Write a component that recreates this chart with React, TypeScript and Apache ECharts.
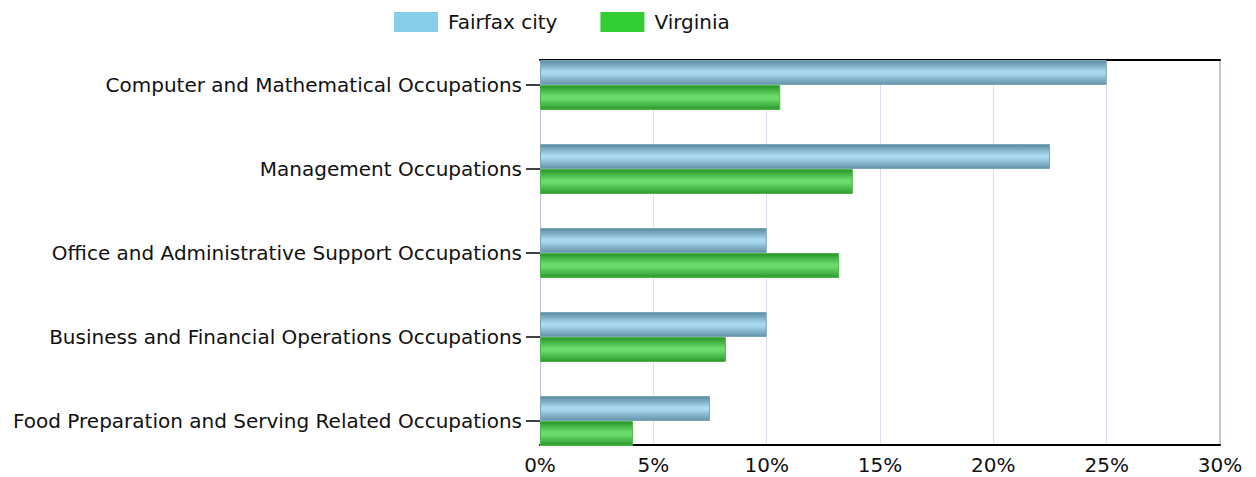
import React, { useEffect, useRef } from "react";
import * as echarts from "echarts";

const categories = [
  "Computer and Mathematical Occupations",
  "Management Occupations",
  "Office and Administrative Support Occupations",
  "Business and Financial Operations Occupations",
  "Food Preparation and Serving Related Occupations",
];
const fairfax = [25.0, 22.5, 10.0, 10.0, 7.5];
const virginia = [10.6, 13.8, 13.2, 8.2, 4.1];
const seriesNames = ["Fairfax city", "Virginia"];
const FONT = "DejaVu Sans";

function grad(edgeTop: string, mid: string, edgeBottom: string) {
  return new echarts.graphic.LinearGradient(0, 0, 0, 1, [
    { offset: 0, color: edgeTop },
    { offset: 0.45, color: mid },
    { offset: 0.55, color: mid },
    { offset: 1, color: edgeBottom },
  ]);
}

export default function App() {
  const ref = useRef<HTMLDivElement>(null);
  useEffect(() => {
    document.body.style.margin = "0";
    if (!ref.current) return;
    const chart = echarts.init(ref.current, null, { renderer: "svg" });
    chart.setOption({
      animation: false,
      textStyle: { fontFamily: FONT },
      legend: {
        left: 394,
        top: 12,
        padding: 0,
        itemWidth: 44,
        itemHeight: 20,
        itemGap: 43,
        icon: "rect",
        textStyle: { fontSize: 20, color: "#111", fontFamily: FONT, padding: [0, 0, 0, 5] },
        data: [
          { name: seriesNames[0], itemStyle: { color: "#87CEEB", borderWidth: 0 } },
          { name: seriesNames[1], itemStyle: { color: "#32CD32", borderWidth: 0 } },
        ],
      },
      grid: [
        { left: 540, right: 36, top: 60, bottom: 32, containLabel: false },
        { left: 540, right: 36, top: 43, bottom: 14, containLabel: false },
      ],
      xAxis: [
        {
          gridIndex: 0,
          type: "value",
          min: 0,
          max: 30,
          interval: 5,
          position: "bottom",
          axisLine: { show: true, onZero: false, lineStyle: { color: "#000", width: 2 } },
          axisTick: { show: false },
          axisLabel: {
            formatter: "{value}%",
            fontSize: 20,
            color: "#111",
            fontFamily: FONT,
            margin: 10,
          },
          splitLine: { show: true, lineStyle: { color: "#dcdcf0", width: 1 } },
        },
        {
          gridIndex: 0,
          type: "value",
          min: 0,
          max: 30,
          position: "top",
          axisLine: { show: true, onZero: false, lineStyle: { color: "#000", width: 2 } },
          axisTick: { show: false },
          axisLabel: { show: false },
          splitLine: { show: false },
        },
        {
          gridIndex: 1,
          type: "value",
          min: 0,
          max: 30,
          show: false,
        },
      ],
      yAxis: [
        {
          gridIndex: 0,
          type: "value",
          min: 0,
          max: 1,
          position: "left",
          axisLine: { show: true, onZero: false, lineStyle: { color: "#c0c0d8", width: 1 } },
          axisTick: { show: false },
          axisLabel: { show: false },
          splitLine: { show: false },
        },
        {
          gridIndex: 0,
          type: "value",
          min: 0,
          max: 1,
          position: "right",
          axisLine: { show: true, onZero: false, lineStyle: { color: "#b8b8cc", width: 1.5 } },
          axisTick: { show: false },
          axisLabel: { show: false },
          splitLine: { show: false },
        },
        {
          gridIndex: 1,
          type: "category",
          data: categories,
          inverse: true,
          axisLine: { show: false },
          axisTick: {
            show: true,
            alignWithLabel: true,
            length: 14,
            lineStyle: { color: "#000", width: 1.5 },
          },
          axisLabel: {
            fontSize: 20,
            color: "#111",
            fontFamily: FONT,
            margin: 18,
          },
        },
      ],
      series: [
        {
          name: seriesNames[0],
          type: "bar",
          xAxisIndex: 2,
          yAxisIndex: 2,
          data: fairfax,
          barWidth: 25,
          barGap: "0%",
          itemStyle: {
            color: grad("#5a8a9e", "#a8d9ef", "#6493a8"),
            borderColor: "#7aa6b8",
            borderWidth: 1,
          },
          z: 3,
        },
        {
          name: seriesNames[1],
          type: "bar",
          xAxisIndex: 2,
          yAxisIndex: 2,
          data: virginia,
          barWidth: 25,
          barGap: "0%",
          itemStyle: {
            color: grad("#289428", "#6bdc6b", "#2c982c"),
            borderColor: "#4cb84c",
            borderWidth: 1,
          },
          z: 3,
        },
      ],
    });
    return () => chart.dispose();
  }, []);
  return <div ref={ref} style={{ width: 1256, height: 477 }} />;
}
